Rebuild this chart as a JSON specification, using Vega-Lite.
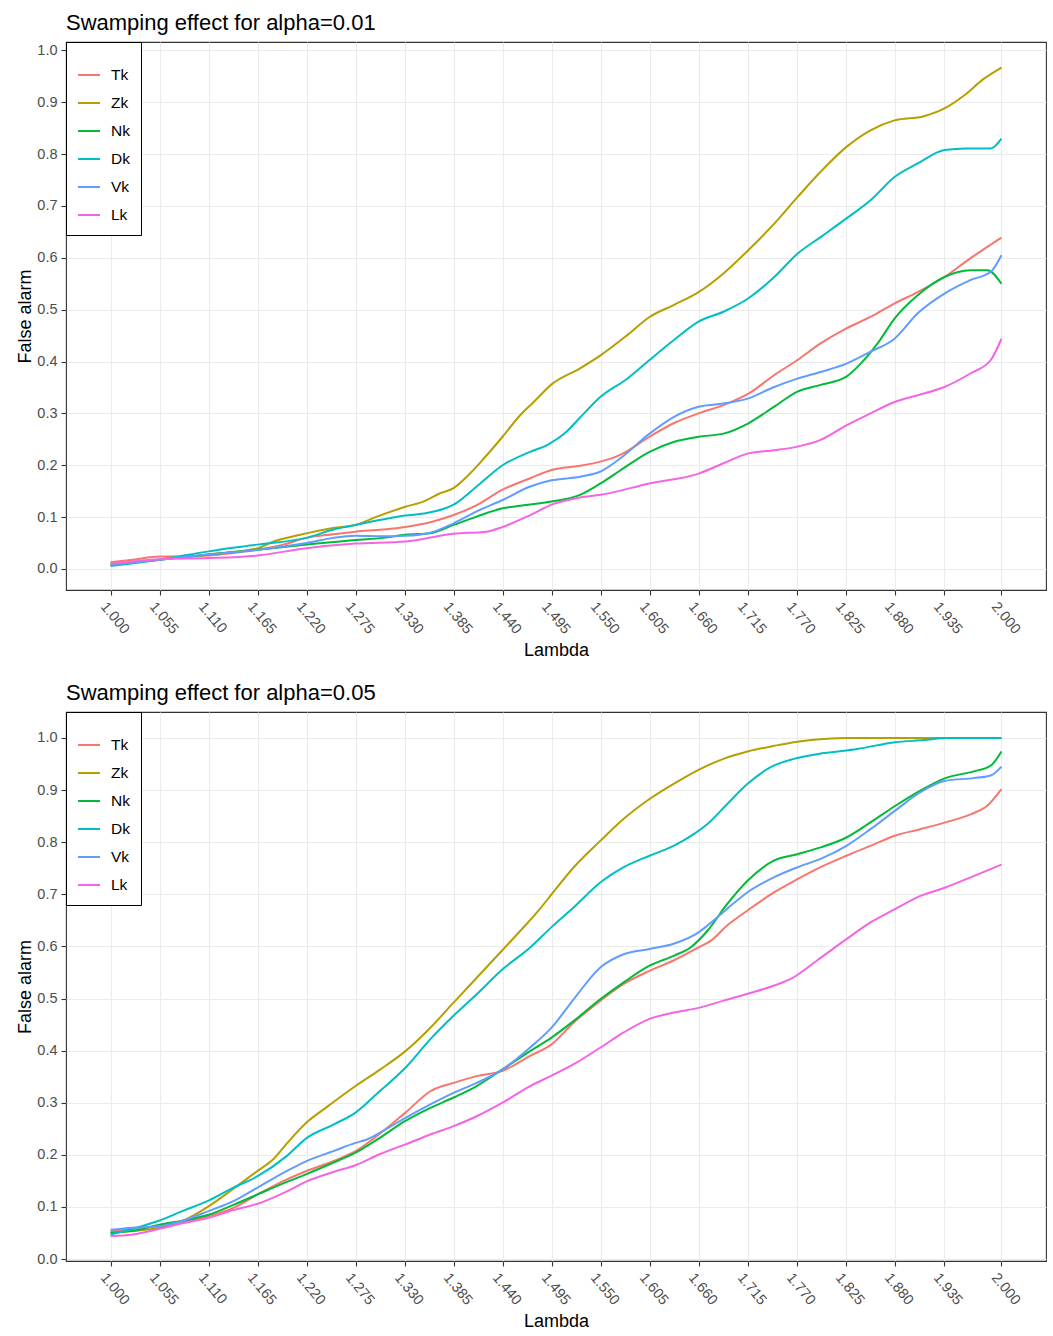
{
  "$schema": "https://vega.github.io/schema/vega-lite/v6.json",
  "background": "white",
  "padding": {"left": 16, "top": 10, "right": 5, "bottom": 5},
  "bounds": "flush",
  "spacing": 122,
  "config": {
    "font": "Liberation Sans",
    "view": {"stroke": "#333333", "strokeWidth": 1.1},
    "axis": {
      "labelFont": "Liberation Sans", "labelFontSize": 14.5, "labelColor": "#4D4D4D",
      "titleFont": "Liberation Sans", "titleFontSize": 18, "titleFontWeight": "normal", "titleColor": "black",
      "tickColor": "#333333", "tickSize": 5, "tickWidth": 1.1,
      "gridColor": "#EBEBEB", "gridWidth": 1.1, "domain": false,
      "labelOverlap": false, "labelFlush": false, "labelBound": false
    },
    "axisX": {"labelAngle": 50, "labelAlign": "left", "labelBaseline": "middle", "labelOffset": -8, "labelPadding": 9, "titlePadding": 6},
    "axisY": {"labelPadding": 4, "titlePadding": 2},
    "legend": {
      "orient": "top-left", "offset": 0, "strokeColor": "black", "strokeWidth": 1, "fillColor": "white",
      "padding": 11, "symbolType": "stroke", "symbolSize": 484, "symbolStrokeWidth": 2,
      "rowPadding": 7, "labelOffset": 10, "labelFont": "Liberation Sans", "labelFontSize": 15.5, "labelColor": "black",
      "titleFontSize": 9, "titlePadding": 1
    },
    "title": {"font": "Liberation Sans", "fontSize": 22, "fontWeight": "normal", "color": "black", "anchor": "start", "frame": "group", "offset": 7},
    "line": {"strokeWidth": 2, "interpolate": "monotone"}
  },
  "datasets": {
    "a01": [
      {"s":"Tk","x":1.0,"y":0.013},{"s":"Tk","x":1.025,"y":0.018},{"s":"Tk","x":1.055,"y":0.024},{"s":"Tk","x":1.082,"y":0.024},{"s":"Tk","x":1.11,"y":0.026},{"s":"Tk","x":1.138,"y":0.031},{"s":"Tk","x":1.165,"y":0.037},{"s":"Tk","x":1.194,"y":0.047},{"s":"Tk","x":1.22,"y":0.06},{"s":"Tk","x":1.25,"y":0.067},{"s":"Tk","x":1.275,"y":0.072},{"s":"Tk","x":1.305,"y":0.076},{"s":"Tk","x":1.331,"y":0.081},{"s":"Tk","x":1.359,"y":0.09},{"s":"Tk","x":1.385,"y":0.104},{"s":"Tk","x":1.411,"y":0.123},{"s":"Tk","x":1.44,"y":0.153},{"s":"Tk","x":1.471,"y":0.175},{"s":"Tk","x":1.495,"y":0.191},{"s":"Tk","x":1.527,"y":0.199},{"s":"Tk","x":1.55,"y":0.207},{"s":"Tk","x":1.572,"y":0.22},{"s":"Tk","x":1.605,"y":0.255},{"s":"Tk","x":1.632,"y":0.281},{"s":"Tk","x":1.66,"y":0.3},{"s":"Tk","x":1.688,"y":0.316},{"s":"Tk","x":1.716,"y":0.338},{"s":"Tk","x":1.745,"y":0.374},{"s":"Tk","x":1.771,"y":0.403},{"s":"Tk","x":1.797,"y":0.435},{"s":"Tk","x":1.826,"y":0.464},{"s":"Tk","x":1.853,"y":0.486},{"s":"Tk","x":1.88,"y":0.512},{"s":"Tk","x":1.906,"y":0.534},{"s":"Tk","x":1.936,"y":0.563},{"s":"Tk","x":1.965,"y":0.599},{"s":"Tk","x":2.0,"y":0.639},
      {"s":"Zk","x":1.0,"y":0.01},{"s":"Zk","x":1.055,"y":0.018},{"s":"Zk","x":1.11,"y":0.028},{"s":"Zk","x":1.165,"y":0.04},{"s":"Zk","x":1.183,"y":0.053},{"s":"Zk","x":1.213,"y":0.066},{"s":"Zk","x":1.25,"y":0.079},{"s":"Zk","x":1.275,"y":0.085},{"s":"Zk","x":1.299,"y":0.101},{"s":"Zk","x":1.331,"y":0.12},{"s":"Zk","x":1.351,"y":0.13},{"s":"Zk","x":1.37,"y":0.146},{"s":"Zk","x":1.385,"y":0.156},{"s":"Zk","x":1.404,"y":0.185},{"s":"Zk","x":1.419,"y":0.213},{"s":"Zk","x":1.44,"y":0.255},{"s":"Zk","x":1.46,"y":0.297},{"s":"Zk","x":1.475,"y":0.322},{"s":"Zk","x":1.495,"y":0.356},{"s":"Zk","x":1.527,"y":0.387},{"s":"Zk","x":1.55,"y":0.412},{"s":"Zk","x":1.58,"y":0.451},{"s":"Zk","x":1.605,"y":0.486},{"s":"Zk","x":1.632,"y":0.509},{"s":"Zk","x":1.66,"y":0.534},{"s":"Zk","x":1.688,"y":0.57},{"s":"Zk","x":1.716,"y":0.615},{"s":"Zk","x":1.745,"y":0.666},{"s":"Zk","x":1.771,"y":0.717},{"s":"Zk","x":1.797,"y":0.766},{"s":"Zk","x":1.826,"y":0.814},{"s":"Zk","x":1.853,"y":0.846},{"s":"Zk","x":1.88,"y":0.865},{"s":"Zk","x":1.913,"y":0.873},{"s":"Zk","x":1.936,"y":0.888},{"s":"Zk","x":1.958,"y":0.913},{"s":"Zk","x":1.98,"y":0.945},{"s":"Zk","x":2.0,"y":0.967},
      {"s":"Nk","x":1.0,"y":0.008},{"s":"Nk","x":1.055,"y":0.018},{"s":"Nk","x":1.11,"y":0.028},{"s":"Nk","x":1.165,"y":0.037},{"s":"Nk","x":1.22,"y":0.047},{"s":"Nk","x":1.275,"y":0.056},{"s":"Nk","x":1.306,"y":0.06},{"s":"Nk","x":1.331,"y":0.066},{"s":"Nk","x":1.359,"y":0.069},{"s":"Nk","x":1.385,"y":0.085},{"s":"Nk","x":1.411,"y":0.101},{"s":"Nk","x":1.44,"y":0.117},{"s":"Nk","x":1.46,"y":0.122},{"s":"Nk","x":1.495,"y":0.13},{"s":"Nk","x":1.527,"y":0.143},{"s":"Nk","x":1.55,"y":0.165},{"s":"Nk","x":1.572,"y":0.19},{"s":"Nk","x":1.605,"y":0.226},{"s":"Nk","x":1.632,"y":0.245},{"s":"Nk","x":1.66,"y":0.255},{"s":"Nk","x":1.688,"y":0.261},{"s":"Nk","x":1.716,"y":0.281},{"s":"Nk","x":1.745,"y":0.313},{"s":"Nk","x":1.771,"y":0.342},{"s":"Nk","x":1.797,"y":0.355},{"s":"Nk","x":1.826,"y":0.371},{"s":"Nk","x":1.842,"y":0.396},{"s":"Nk","x":1.861,"y":0.435},{"s":"Nk","x":1.88,"y":0.483},{"s":"Nk","x":1.906,"y":0.528},{"s":"Nk","x":1.936,"y":0.563},{"s":"Nk","x":1.965,"y":0.576},{"s":"Nk","x":1.984,"y":0.576},{"s":"Nk","x":2.0,"y":0.55},
      {"s":"Dk","x":1.0,"y":0.006},{"s":"Dk","x":1.055,"y":0.018},{"s":"Dk","x":1.11,"y":0.034},{"s":"Dk","x":1.165,"y":0.047},{"s":"Dk","x":1.22,"y":0.06},{"s":"Dk","x":1.25,"y":0.076},{"s":"Dk","x":1.275,"y":0.085},{"s":"Dk","x":1.331,"y":0.103},{"s":"Dk","x":1.355,"y":0.108},{"s":"Dk","x":1.385,"y":0.124},{"s":"Dk","x":1.411,"y":0.159},{"s":"Dk","x":1.44,"y":0.2},{"s":"Dk","x":1.471,"y":0.226},{"s":"Dk","x":1.49,"y":0.239},{"s":"Dk","x":1.512,"y":0.265},{"s":"Dk","x":1.527,"y":0.292},{"s":"Dk","x":1.55,"y":0.332},{"s":"Dk","x":1.58,"y":0.367},{"s":"Dk","x":1.605,"y":0.403},{"s":"Dk","x":1.632,"y":0.441},{"s":"Dk","x":1.66,"y":0.477},{"s":"Dk","x":1.688,"y":0.496},{"s":"Dk","x":1.716,"y":0.522},{"s":"Dk","x":1.745,"y":0.563},{"s":"Dk","x":1.771,"y":0.608},{"s":"Dk","x":1.797,"y":0.64},{"s":"Dk","x":1.826,"y":0.676},{"s":"Dk","x":1.853,"y":0.711},{"s":"Dk","x":1.88,"y":0.756},{"s":"Dk","x":1.906,"y":0.782},{"s":"Dk","x":1.936,"y":0.808},{"s":"Dk","x":1.96,"y":0.811},{"s":"Dk","x":1.988,"y":0.811},{"s":"Dk","x":2.0,"y":0.83},
      {"s":"Vk","x":1.0,"y":0.008},{"s":"Vk","x":1.055,"y":0.018},{"s":"Vk","x":1.11,"y":0.028},{"s":"Vk","x":1.165,"y":0.037},{"s":"Vk","x":1.22,"y":0.05},{"s":"Vk","x":1.25,"y":0.06},{"s":"Vk","x":1.275,"y":0.064},{"s":"Vk","x":1.306,"y":0.063},{"s":"Vk","x":1.331,"y":0.064},{"s":"Vk","x":1.359,"y":0.07},{"s":"Vk","x":1.385,"y":0.088},{"s":"Vk","x":1.411,"y":0.111},{"s":"Vk","x":1.44,"y":0.133},{"s":"Vk","x":1.471,"y":0.159},{"s":"Vk","x":1.495,"y":0.171},{"s":"Vk","x":1.527,"y":0.178},{"s":"Vk","x":1.55,"y":0.188},{"s":"Vk","x":1.572,"y":0.213},{"s":"Vk","x":1.605,"y":0.261},{"s":"Vk","x":1.632,"y":0.293},{"s":"Vk","x":1.66,"y":0.313},{"s":"Vk","x":1.688,"y":0.319},{"s":"Vk","x":1.716,"y":0.329},{"s":"Vk","x":1.745,"y":0.351},{"s":"Vk","x":1.771,"y":0.367},{"s":"Vk","x":1.797,"y":0.38},{"s":"Vk","x":1.826,"y":0.396},{"s":"Vk","x":1.853,"y":0.419},{"s":"Vk","x":1.88,"y":0.444},{"s":"Vk","x":1.906,"y":0.493},{"s":"Vk","x":1.936,"y":0.531},{"s":"Vk","x":1.965,"y":0.557},{"s":"Vk","x":1.988,"y":0.573},{"s":"Vk","x":2.0,"y":0.605},
      {"s":"Lk","x":1.0,"y":0.01},{"s":"Lk","x":1.055,"y":0.019},{"s":"Lk","x":1.11,"y":0.021},{"s":"Lk","x":1.165,"y":0.026},{"s":"Lk","x":1.22,"y":0.04},{"s":"Lk","x":1.275,"y":0.049},{"s":"Lk","x":1.331,"y":0.053},{"s":"Lk","x":1.385,"y":0.068},{"s":"Lk","x":1.422,"y":0.072},{"s":"Lk","x":1.44,"y":0.081},{"s":"Lk","x":1.471,"y":0.104},{"s":"Lk","x":1.495,"y":0.124},{"s":"Lk","x":1.527,"y":0.138},{"s":"Lk","x":1.55,"y":0.143},{"s":"Lk","x":1.605,"y":0.165},{"s":"Lk","x":1.66,"y":0.184},{"s":"Lk","x":1.688,"y":0.204},{"s":"Lk","x":1.716,"y":0.223},{"s":"Lk","x":1.745,"y":0.229},{"s":"Lk","x":1.771,"y":0.236},{"s":"Lk","x":1.797,"y":0.249},{"s":"Lk","x":1.826,"y":0.277},{"s":"Lk","x":1.853,"y":0.3},{"s":"Lk","x":1.88,"y":0.322},{"s":"Lk","x":1.906,"y":0.335},{"s":"Lk","x":1.936,"y":0.351},{"s":"Lk","x":1.965,"y":0.377},{"s":"Lk","x":1.988,"y":0.403},{"s":"Lk","x":2.0,"y":0.444}
    ],
    "a05": [
      {"s":"Tk","x":1.0,"y":0.053},{"s":"Tk","x":1.025,"y":0.058},{"s":"Tk","x":1.055,"y":0.063},{"s":"Tk","x":1.082,"y":0.072},{"s":"Tk","x":1.11,"y":0.082},{"s":"Tk","x":1.138,"y":0.098},{"s":"Tk","x":1.165,"y":0.124},{"s":"Tk","x":1.198,"y":0.153},{"s":"Tk","x":1.22,"y":0.169},{"s":"Tk","x":1.25,"y":0.188},{"s":"Tk","x":1.275,"y":0.207},{"s":"Tk","x":1.299,"y":0.236},{"s":"Tk","x":1.331,"y":0.281},{"s":"Tk","x":1.359,"y":0.322},{"s":"Tk","x":1.385,"y":0.338},{"s":"Tk","x":1.411,"y":0.351},{"s":"Tk","x":1.44,"y":0.361},{"s":"Tk","x":1.471,"y":0.39},{"s":"Tk","x":1.495,"y":0.412},{"s":"Tk","x":1.52,"y":0.454},{"s":"Tk","x":1.55,"y":0.496},{"s":"Tk","x":1.576,"y":0.528},{"s":"Tk","x":1.605,"y":0.553},{"s":"Tk","x":1.632,"y":0.573},{"s":"Tk","x":1.66,"y":0.598},{"s":"Tk","x":1.674,"y":0.611},{"s":"Tk","x":1.692,"y":0.64},{"s":"Tk","x":1.715,"y":0.669},{"s":"Tk","x":1.745,"y":0.704},{"s":"Tk","x":1.771,"y":0.729},{"s":"Tk","x":1.797,"y":0.752},{"s":"Tk","x":1.826,"y":0.774},{"s":"Tk","x":1.853,"y":0.793},{"s":"Tk","x":1.881,"y":0.813},{"s":"Tk","x":1.909,"y":0.825},{"s":"Tk","x":1.937,"y":0.838},{"s":"Tk","x":1.966,"y":0.854},{"s":"Tk","x":1.984,"y":0.87},{"s":"Tk","x":2.0,"y":0.902},
      {"s":"Zk","x":1.0,"y":0.051},{"s":"Zk","x":1.025,"y":0.054},{"s":"Zk","x":1.055,"y":0.06},{"s":"Zk","x":1.082,"y":0.074},{"s":"Zk","x":1.11,"y":0.101},{"s":"Zk","x":1.138,"y":0.135},{"s":"Zk","x":1.165,"y":0.169},{"s":"Zk","x":1.183,"y":0.192},{"s":"Zk","x":1.198,"y":0.222},{"s":"Zk","x":1.22,"y":0.262},{"s":"Zk","x":1.243,"y":0.292},{"s":"Zk","x":1.275,"y":0.332},{"s":"Zk","x":1.302,"y":0.363},{"s":"Zk","x":1.331,"y":0.399},{"s":"Zk","x":1.359,"y":0.444},{"s":"Zk","x":1.385,"y":0.492},{"s":"Zk","x":1.422,"y":0.56},{"s":"Zk","x":1.46,"y":0.63},{"s":"Zk","x":1.482,"y":0.672},{"s":"Zk","x":1.495,"y":0.7},{"s":"Zk","x":1.52,"y":0.752},{"s":"Zk","x":1.55,"y":0.803},{"s":"Zk","x":1.576,"y":0.845},{"s":"Zk","x":1.605,"y":0.883},{"s":"Zk","x":1.632,"y":0.912},{"s":"Zk","x":1.66,"y":0.939},{"s":"Zk","x":1.688,"y":0.96},{"s":"Zk","x":1.715,"y":0.974},{"s":"Zk","x":1.745,"y":0.985},{"s":"Zk","x":1.771,"y":0.993},{"s":"Zk","x":1.801,"y":0.998},{"s":"Zk","x":1.826,"y":1.0},{"s":"Zk","x":1.9,"y":1.0},{"s":"Zk","x":2.0,"y":1.0},
      {"s":"Nk","x":1.0,"y":0.05},{"s":"Nk","x":1.025,"y":0.054},{"s":"Nk","x":1.055,"y":0.066},{"s":"Nk","x":1.082,"y":0.074},{"s":"Nk","x":1.11,"y":0.085},{"s":"Nk","x":1.138,"y":0.104},{"s":"Nk","x":1.165,"y":0.124},{"s":"Nk","x":1.198,"y":0.148},{"s":"Nk","x":1.22,"y":0.163},{"s":"Nk","x":1.25,"y":0.185},{"s":"Nk","x":1.275,"y":0.204},{"s":"Nk","x":1.299,"y":0.229},{"s":"Nk","x":1.331,"y":0.265},{"s":"Nk","x":1.359,"y":0.29},{"s":"Nk","x":1.385,"y":0.31},{"s":"Nk","x":1.411,"y":0.332},{"s":"Nk","x":1.44,"y":0.364},{"s":"Nk","x":1.471,"y":0.399},{"s":"Nk","x":1.495,"y":0.425},{"s":"Nk","x":1.52,"y":0.457},{"s":"Nk","x":1.55,"y":0.499},{"s":"Nk","x":1.576,"y":0.531},{"s":"Nk","x":1.605,"y":0.563},{"s":"Nk","x":1.632,"y":0.582},{"s":"Nk","x":1.651,"y":0.598},{"s":"Nk","x":1.67,"y":0.63},{"s":"Nk","x":1.692,"y":0.681},{"s":"Nk","x":1.715,"y":0.726},{"s":"Nk","x":1.745,"y":0.765},{"s":"Nk","x":1.771,"y":0.777},{"s":"Nk","x":1.797,"y":0.79},{"s":"Nk","x":1.826,"y":0.809},{"s":"Nk","x":1.853,"y":0.838},{"s":"Nk","x":1.881,"y":0.87},{"s":"Nk","x":1.909,"y":0.899},{"s":"Nk","x":1.937,"y":0.923},{"s":"Nk","x":1.969,"y":0.936},{"s":"Nk","x":1.988,"y":0.947},{"s":"Nk","x":2.0,"y":0.974},
      {"s":"Dk","x":1.0,"y":0.047},{"s":"Dk","x":1.025,"y":0.058},{"s":"Dk","x":1.055,"y":0.074},{"s":"Dk","x":1.082,"y":0.093},{"s":"Dk","x":1.11,"y":0.112},{"s":"Dk","x":1.138,"y":0.137},{"s":"Dk","x":1.165,"y":0.159},{"s":"Dk","x":1.198,"y":0.198},{"s":"Dk","x":1.22,"y":0.232},{"s":"Dk","x":1.25,"y":0.258},{"s":"Dk","x":1.275,"y":0.281},{"s":"Dk","x":1.302,"y":0.322},{"s":"Dk","x":1.331,"y":0.367},{"s":"Dk","x":1.359,"y":0.422},{"s":"Dk","x":1.385,"y":0.467},{"s":"Dk","x":1.411,"y":0.508},{"s":"Dk","x":1.44,"y":0.556},{"s":"Dk","x":1.471,"y":0.598},{"s":"Dk","x":1.495,"y":0.637},{"s":"Dk","x":1.52,"y":0.675},{"s":"Dk","x":1.55,"y":0.723},{"s":"Dk","x":1.576,"y":0.752},{"s":"Dk","x":1.605,"y":0.774},{"s":"Dk","x":1.632,"y":0.793},{"s":"Dk","x":1.655,"y":0.816},{"s":"Dk","x":1.67,"y":0.835},{"s":"Dk","x":1.692,"y":0.873},{"s":"Dk","x":1.715,"y":0.912},{"s":"Dk","x":1.741,"y":0.944},{"s":"Dk","x":1.767,"y":0.96},{"s":"Dk","x":1.801,"y":0.971},{"s":"Dk","x":1.838,"y":0.979},{"s":"Dk","x":1.881,"y":0.992},{"s":"Dk","x":1.913,"y":0.996},{"s":"Dk","x":1.937,"y":1.0},{"s":"Dk","x":2.0,"y":1.0},
      {"s":"Vk","x":1.0,"y":0.056},{"s":"Vk","x":1.025,"y":0.06},{"s":"Vk","x":1.055,"y":0.063},{"s":"Vk","x":1.082,"y":0.074},{"s":"Vk","x":1.11,"y":0.092},{"s":"Vk","x":1.138,"y":0.111},{"s":"Vk","x":1.165,"y":0.137},{"s":"Vk","x":1.198,"y":0.169},{"s":"Vk","x":1.22,"y":0.188},{"s":"Vk","x":1.25,"y":0.207},{"s":"Vk","x":1.275,"y":0.223},{"s":"Vk","x":1.287,"y":0.229},{"s":"Vk","x":1.306,"y":0.246},{"s":"Vk","x":1.331,"y":0.271},{"s":"Vk","x":1.359,"y":0.297},{"s":"Vk","x":1.385,"y":0.319},{"s":"Vk","x":1.411,"y":0.338},{"s":"Vk","x":1.44,"y":0.364},{"s":"Vk","x":1.471,"y":0.406},{"s":"Vk","x":1.495,"y":0.444},{"s":"Vk","x":1.52,"y":0.499},{"s":"Vk","x":1.55,"y":0.56},{"s":"Vk","x":1.576,"y":0.585},{"s":"Vk","x":1.605,"y":0.595},{"s":"Vk","x":1.632,"y":0.605},{"s":"Vk","x":1.66,"y":0.627},{"s":"Vk","x":1.67,"y":0.64},{"s":"Vk","x":1.692,"y":0.672},{"s":"Vk","x":1.715,"y":0.704},{"s":"Vk","x":1.745,"y":0.733},{"s":"Vk","x":1.771,"y":0.752},{"s":"Vk","x":1.797,"y":0.768},{"s":"Vk","x":1.826,"y":0.793},{"s":"Vk","x":1.853,"y":0.825},{"s":"Vk","x":1.881,"y":0.861},{"s":"Vk","x":1.909,"y":0.896},{"s":"Vk","x":1.937,"y":0.918},{"s":"Vk","x":1.969,"y":0.923},{"s":"Vk","x":1.988,"y":0.928},{"s":"Vk","x":2.0,"y":0.945},
      {"s":"Lk","x":1.0,"y":0.044},{"s":"Lk","x":1.025,"y":0.047},{"s":"Lk","x":1.055,"y":0.058},{"s":"Lk","x":1.082,"y":0.069},{"s":"Lk","x":1.11,"y":0.079},{"s":"Lk","x":1.138,"y":0.094},{"s":"Lk","x":1.165,"y":0.106},{"s":"Lk","x":1.198,"y":0.13},{"s":"Lk","x":1.22,"y":0.149},{"s":"Lk","x":1.25,"y":0.167},{"s":"Lk","x":1.275,"y":0.18},{"s":"Lk","x":1.302,"y":0.201},{"s":"Lk","x":1.331,"y":0.22},{"s":"Lk","x":1.359,"y":0.239},{"s":"Lk","x":1.385,"y":0.255},{"s":"Lk","x":1.411,"y":0.274},{"s":"Lk","x":1.44,"y":0.3},{"s":"Lk","x":1.471,"y":0.332},{"s":"Lk","x":1.495,"y":0.352},{"s":"Lk","x":1.52,"y":0.374},{"s":"Lk","x":1.55,"y":0.406},{"s":"Lk","x":1.576,"y":0.435},{"s":"Lk","x":1.605,"y":0.461},{"s":"Lk","x":1.632,"y":0.473},{"s":"Lk","x":1.66,"y":0.482},{"s":"Lk","x":1.688,"y":0.496},{"s":"Lk","x":1.715,"y":0.509},{"s":"Lk","x":1.745,"y":0.525},{"s":"Lk","x":1.763,"y":0.537},{"s":"Lk","x":1.793,"y":0.573},{"s":"Lk","x":1.826,"y":0.614},{"s":"Lk","x":1.853,"y":0.646},{"s":"Lk","x":1.881,"y":0.672},{"s":"Lk","x":1.909,"y":0.697},{"s":"Lk","x":1.937,"y":0.713},{"s":"Lk","x":1.966,"y":0.733},{"s":"Lk","x":2.0,"y":0.757}
    ]
  },
  "vconcat": [
    {
      "title": {"text": "Swamping effect for alpha=0.01"},
      "width": 980,
      "height": 548,
      "data": {"name": "a01"},
      "mark": {"type": "line"},
      "encoding": {
        "x": {"field": "x", "type": "quantitative", "title": "Lambda",
              "scale": {"domain": [0.95, 2.05], "nice": false, "zero": false},
              "axis": {"values": [1, 1.055, 1.11, 1.165, 1.22, 1.275, 1.33, 1.385, 1.44, 1.495, 1.55, 1.605, 1.66, 1.715, 1.77, 1.825, 1.88, 1.935, 2.0], "format": ".3f"}},
        "y": {"field": "y", "type": "quantitative", "title": "False alarm",
              "scale": {"domain": [-0.0405, 1.0162], "nice": false, "zero": false},
              "axis": {"values": [0, 0.1, 0.2, 0.3, 0.4, 0.5, 0.6, 0.7, 0.8, 0.9, 1.0], "format": ".1f"}},
        "color": {"field": "s", "type": "nominal", "title": " ",
                  "scale": {"domain": ["Tk", "Zk", "Nk", "Dk", "Vk", "Lk"], "range": ["#F8766D", "#B79F00", "#00BA38", "#00BFC4", "#619CFF", "#F564E3"]},
                  "legend": {"orient": "top-left"}}
      }
    },
    {
      "title": {"text": "Swamping effect for alpha=0.05"},
      "width": 980,
      "height": 549,
      "data": {"name": "a05"},
      "mark": {"type": "line"},
      "encoding": {
        "x": {"field": "x", "type": "quantitative", "title": "Lambda",
              "scale": {"domain": [0.95, 2.05], "nice": false, "zero": false},
              "axis": {"values": [1, 1.055, 1.11, 1.165, 1.22, 1.275, 1.33, 1.385, 1.44, 1.495, 1.55, 1.605, 1.66, 1.715, 1.77, 1.825, 1.88, 1.935, 2.0], "format": ".3f"}},
        "y": {"field": "y", "type": "quantitative", "title": "False alarm",
              "scale": {"domain": [-0.0038, 1.0499], "nice": false, "zero": false},
              "axis": {"values": [0, 0.1, 0.2, 0.3, 0.4, 0.5, 0.6, 0.7, 0.8, 0.9, 1.0], "format": ".1f"}},
        "color": {"field": "s", "type": "nominal", "title": " ",
                  "scale": {"domain": ["Tk", "Zk", "Nk", "Dk", "Vk", "Lk"], "range": ["#F8766D", "#B79F00", "#00BA38", "#00BFC4", "#619CFF", "#F564E3"]},
                  "legend": {"orient": "top-left"}}
      }
    }
  ],
  "resolve": {"scale": {"x": "independent", "y": "independent", "color": "independent"}, "legend": {"color": "independent"}}
}
